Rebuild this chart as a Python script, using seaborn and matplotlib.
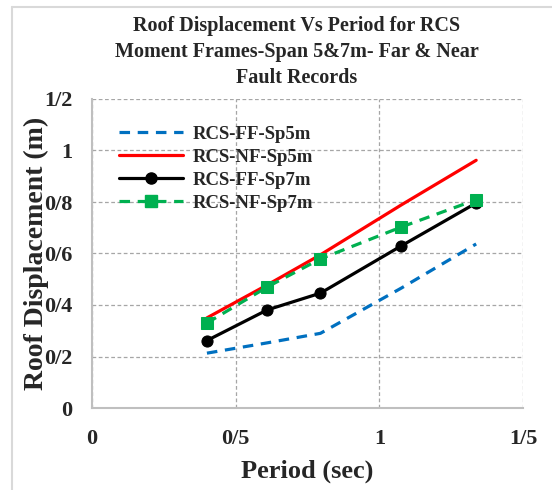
import pandas as pd
import matplotlib.pyplot as plt
import seaborn as sns
from matplotlib.lines import Line2D

# Data
period = [0.40, 0.61, 0.795, 1.077, 1.337]
ff_sp5 = [0.213, 0.253, 0.290, 0.466, 0.637]
nf_sp5 = [0.350, 0.478, 0.595, 0.789, 0.962]
ff_sp7 = [0.262, 0.381, 0.446, 0.630, 0.796]
nf_sp7 = [0.330, 0.470, 0.579, 0.703, 0.809]

series_names = ["RCS-FF-Sp5m", "RCS-NF-Sp5m", "RCS-FF-Sp7m", "RCS-NF-Sp7m"]
y_ticks = [0, 0.2, 0.4, 0.6, 0.8, 1.0, 1.2]
y_tick_labels = ["0", "0/2", "0/4", "0/6", "0/8", "1", "1/2"]
x_ticks = [0, 0.5, 1.0, 1.5]
x_tick_labels = ["0", "0/5", "1", "1/5"]

sns.set_style("white")
plt.rcParams["font.family"] = ["Liberation Serif", "DejaVu Serif"]
plt.rcParams["font.weight"] = "bold"

fig = plt.figure(figsize=(5.52, 4.9), dpi=100)
ax = fig.add_axes([92 / 552, 1 - 408 / 490, 431 / 552, 309 / 490])

dash = (0, (3.3, 2.4))
styles = [
    dict(color="#0070C0", ls=dash, marker=None),
    dict(color="#FF0000", ls="-", marker=None),
    dict(color="#000000", ls="-", marker="o"),
    dict(color="#00B050", ls=dash, marker="s"),
]
values = [ff_sp5, nf_sp5, ff_sp7, nf_sp7]

handles = []
for name, vals, st in zip(series_names, values, styles):
    df = pd.DataFrame({"Period": period, "Disp": vals})
    sns.lineplot(data=df, x="Period", y="Disp", ax=ax, color=st["color"],
                 linewidth=2.3, marker=st["marker"], markersize=8,
                 markeredgecolor=st["color"], markerfacecolor=st["color"])
    ax.get_lines()[-1].set_linestyle(st["ls"])
    handles.append(Line2D([], [], color=st["color"], lw=2.3, ls=st["ls"],
                          marker=st["marker"], markersize=8))

ax.set_xlim(0, 1.5)
ax.set_ylim(0, 1.2)
ax.set_xticks(x_ticks)
ax.set_xticklabels(x_tick_labels, fontsize=16, fontweight="bold")
ax.set_yticks(y_ticks)
ax.set_yticklabels(y_tick_labels, fontsize=16, fontweight="bold")
ax.tick_params(axis="y", direction="in", length=4, color="#bfbfbf", pad=14)
ax.tick_params(axis="x", direction="in", length=0, pad=15)
ax.grid(True, color="#a6a6a6", linestyle=(0, (3, 2)), linewidth=0.9)
for s in ["top", "right"]:
    ax.spines[s].set_visible(False)
for s in ["left", "bottom"]:
    ax.spines[s].set_color("#bfbfbf")
    ax.spines[s].set_linewidth(1.5)

ax.set_xlabel("Period (sec)", fontsize=19, fontweight="bold")
ax.set_ylabel("Roof Displacement (m)", fontsize=20, fontweight="bold")
ax.xaxis.set_label_coords(0.5, -0.166)
ax.yaxis.set_label_coords(-0.1, 0.5)

ax.legend(handles, series_names, loc="upper left", bbox_to_anchor=(0.02, 0.975),
          frameon=False, prop=dict(size=13.5, weight="bold"), handlelength=3.4,
          labelspacing=0.32, handletextpad=0.5, borderaxespad=0.6)

fig.text(297 / 552, 1 - 52 / 490,
         "Roof Displacement Vs Period for RCS\nMoment Frames-Span 5&7m- Far & Near\nFault Records",
         ha="center", va="center", fontsize=14.5, fontweight="bold", linespacing=1.4)

# outer chart-area border
fig.add_artist(Line2D([12 / 552, 12 / 552], [0, 1 - 7 / 490], color="#d9d9d9",
                      lw=1.5, transform=fig.transFigure))
fig.add_artist(Line2D([12 / 552, 1], [1 - 7 / 490, 1 - 7 / 490], color="#d9d9d9",
                      lw=1.5, transform=fig.transFigure))

fig.savefig("out.png", dpi=100)
